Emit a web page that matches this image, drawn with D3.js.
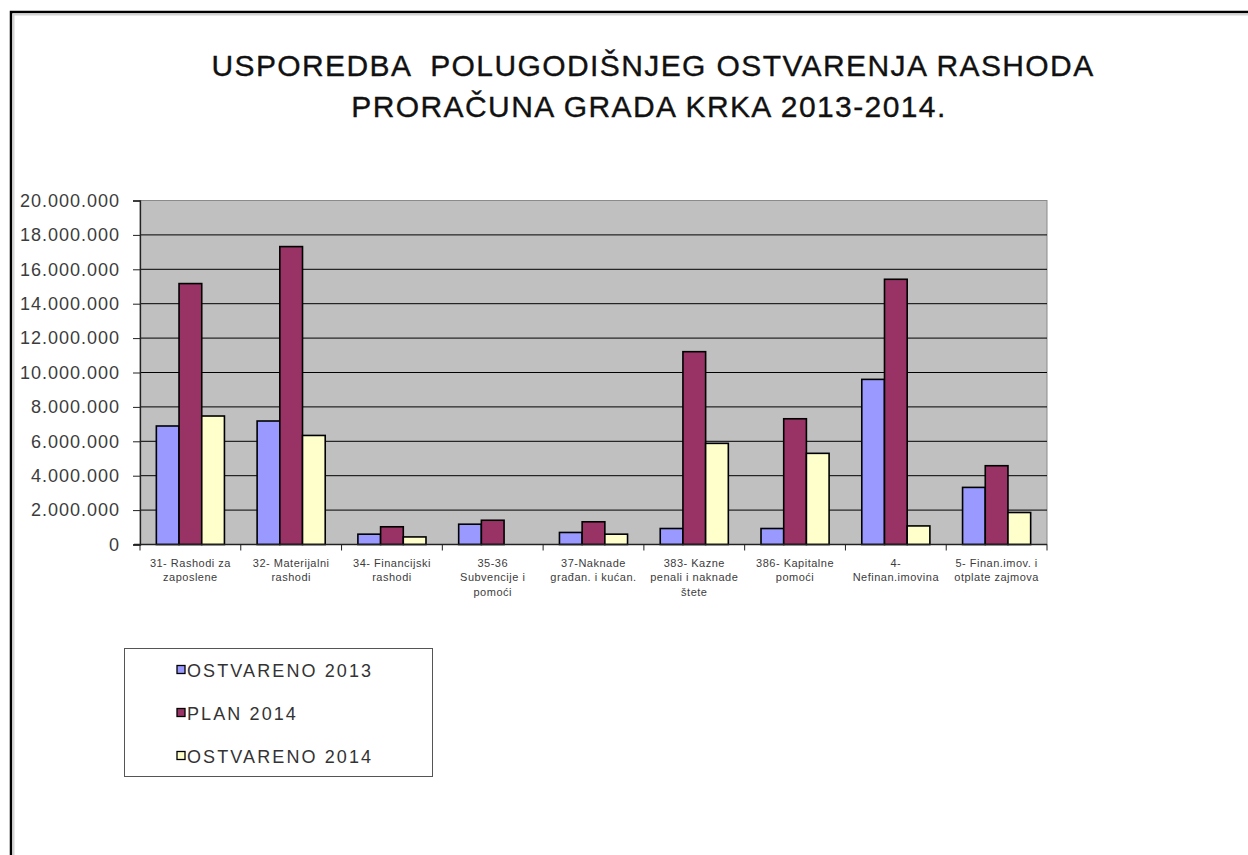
<!DOCTYPE html>
<html lang="hr">
<head>
    <meta charset="UTF-8">
    <title>Usporedba polugodišnjeg ostvarenja rashoda</title>
    <script src="https://d3js.org/d3.v7.min.js"></script>
    <style>
        body { margin: 0; background: #fff; }
        svg { display: block; font-family: Arial, "Liberation Sans", sans-serif; }
    </style>
</head>
<body>
    <svg id="chart" width="1248" height="855"></svg>

    <script>
        // podaci
        const categories = ["31", "32", "34", "35-36", "37", "383", "386", "4", "5"];
        const categoryLabels = [
            ["31- Rashodi za", "zaposlene"],
            ["32- Materijalni", "rashodi"],
            ["34- Financijski", "rashodi"],
            ["35-36", "Subvencije i", "pomoći"],
            ["37-Naknade", "građan. i kućan."],
            ["383- Kazne", "penali i naknade", "štete"],
            ["386- Kapitalne", "pomoći"],
            ["4-", "Nefinan.imovina"],
            ["5- Finan.imov. i", "otplate zajmova"]
        ];
        const seriesNames = ["OSTVARENO 2013", "PLAN 2014", "OSTVARENO 2014"];
        const ostvareno2013 = [6890000, 7180000, 600000, 1180000, 700000, 930000, 930000, 9600000, 3320000];
        const plan2014 = [15170000, 17320000, 1030000, 1410000, 1320000, 11210000, 7310000, 15420000, 4580000];
        const ostvareno2014 = [7470000, 6340000, 440000, 0, 600000, 5880000, 5300000, 1080000, 1860000];
        const yTicks = [0, 2000000, 4000000, 6000000, 8000000, 10000000, 12000000, 14000000, 16000000, 18000000, 20000000];
        const colors = ["#9999FF", "#993366", "#FFFFCC"];

        const series = [ostvareno2013, plan2014, ostvareno2014];
        const svg = d3.select("#chart");

        // okvir oko cijele slike
        svg.append("rect").attr("x", 11).attr("y", 12).attr("width", 1400).attr("height", 1000)
            .attr("fill", "none").attr("stroke", "#000").attr("stroke-width", 2.5);
        svg.append("path").attr("d", "M13.5,860V14.5H1260")
            .attr("fill", "none").attr("stroke", "#d4d4d4").attr("stroke-width", 2);

        // naslov
        const title = svg.append("text").attr("text-anchor", "middle")
            .style("font-size", "30px").style("fill", "#111")
            .style("stroke", "#111").style("stroke-width", "0.35px")
            .style("letter-spacing", "1.4px");
        title.append("tspan").attr("x", 653).attr("y", 76).text("USPOREDBA  POLUGODIŠNJEG OSTVARENJA RASHODA")
            .style("white-space", "pre");
        title.append("tspan").attr("x", 649).attr("y", 117).text("PRORAČUNA GRADA KRKA 2013-2014.");

        const plotLeft = 140, plotRight = 1047, plotTop = 200.5, plotBottom = 544.5;

        const x0 = d3.scaleBand().domain(categories).range([plotLeft, plotRight]);
        const x1 = d3.scaleBand().domain(d3.range(series.length)).range([0, x0.bandwidth()]).paddingOuter(0.72);
        const y = d3.scaleLinear().domain([0, 20000000]).range([plotBottom, plotTop]);

        const hr = d3.formatLocale({ decimal: ",", thousands: ".", grouping: [3], currency: ["", ""] });
        const fmt = hr.format(",");

        // pozadina
        svg.append("rect").attr("x", plotLeft).attr("y", plotTop)
            .attr("width", plotRight - plotLeft).attr("height", plotBottom - plotTop)
            .attr("fill", "#C0C0C0").attr("stroke", "#8a8a8a").attr("stroke-width", 1);

        // mreža
        svg.append("g").selectAll("line").data(yTicks.filter(d => d > 0 && d < 20000000)).join("line")
            .attr("x1", plotLeft).attr("x2", plotRight)
            .attr("y1", d => y(d)).attr("y2", d => y(d))
            .attr("stroke", "#000").attr("stroke-width", 1);

        // stupci
        const groups = svg.append("g").selectAll("g").data(categories).join("g")
            .attr("transform", d => `translate(${x0(d)},0)`);
        groups.selectAll("rect")
            .data((d, i) => series.map((s, k) => ({ k: k, v: s[i] })).filter(e => e.v > 0))
            .join("rect")
            .attr("x", d => x1(d.k))
            .attr("y", d => y(d.v))
            .attr("width", x1.bandwidth())
            .attr("height", d => plotBottom - y(d.v))
            .attr("fill", d => colors[d.k])
            .attr("stroke", "#000").attr("stroke-width", 1.6);

        // y os
        const yAxis = svg.append("g").attr("transform", `translate(${plotLeft},0)`)
            .call(d3.axisLeft(y).tickValues(yTicks).tickFormat(fmt).tickSize(7).tickPadding(13));
        yAxis.select(".domain").attr("stroke", "#222").attr("stroke-width", 1.3);
        yAxis.selectAll(".tick line").attr("stroke", "#222");
        yAxis.selectAll("text").style("font-size", "18px").style("fill", "#3c3c3c")
            .style("letter-spacing", "1px").style("font-family", "Arial, 'Liberation Sans', sans-serif");

        // x os
        const xAxis = svg.append("g").attr("transform", `translate(0,${plotBottom})`);
        xAxis.append("line").attr("x1", plotLeft - 6).attr("x2", plotRight).attr("y1", 0).attr("y2", 0)
            .attr("stroke", "#222").attr("stroke-width", 1.3);
        xAxis.selectAll(".xt").data(categories.concat(["end"])).join("line")
            .attr("x1", d => d === "end" ? plotRight : x0(d)).attr("x2", d => d === "end" ? plotRight : x0(d))
            .attr("y1", 0).attr("y2", 6).attr("stroke", "#222");
        xAxis.selectAll(".xl").data(categories).join("text")
            .attr("text-anchor", "middle")
            .style("font-size", "11px").style("fill", "#3c3c3c").style("letter-spacing", "0.5px")
            .each(function(d, i) {
                const t = d3.select(this);
                categoryLabels[i].forEach((line, j) => {
                    t.append("tspan").attr("x", x0(d) + x0.bandwidth() / 2).attr("y", 22 + j * 14.5).text(line);
                });
            });

        // legenda
        const legend = svg.append("g");
        legend.append("rect").attr("x", 124.5).attr("y", 648.5).attr("width", 308).attr("height", 128)
            .attr("fill", "#fff").attr("stroke", "#555").attr("stroke-width", 1);
        const items = legend.selectAll("g").data(seriesNames).join("g")
            .attr("transform", (d, i) => `translate(177,${670 + i * 43})`);
        items.append("rect").attr("x", 0).attr("y", -4.5).attr("width", 8).attr("height", 8)
            .attr("fill", (d, i) => colors[i]).attr("stroke", "#000").attr("stroke-width", 1.3);
        items.append("text").attr("x", 10).attr("y", 6.5).text(d => d)
            .style("font-size", "18px").style("fill", "#333").style("letter-spacing", "2.1px");
    </script>
</body>
</html>
